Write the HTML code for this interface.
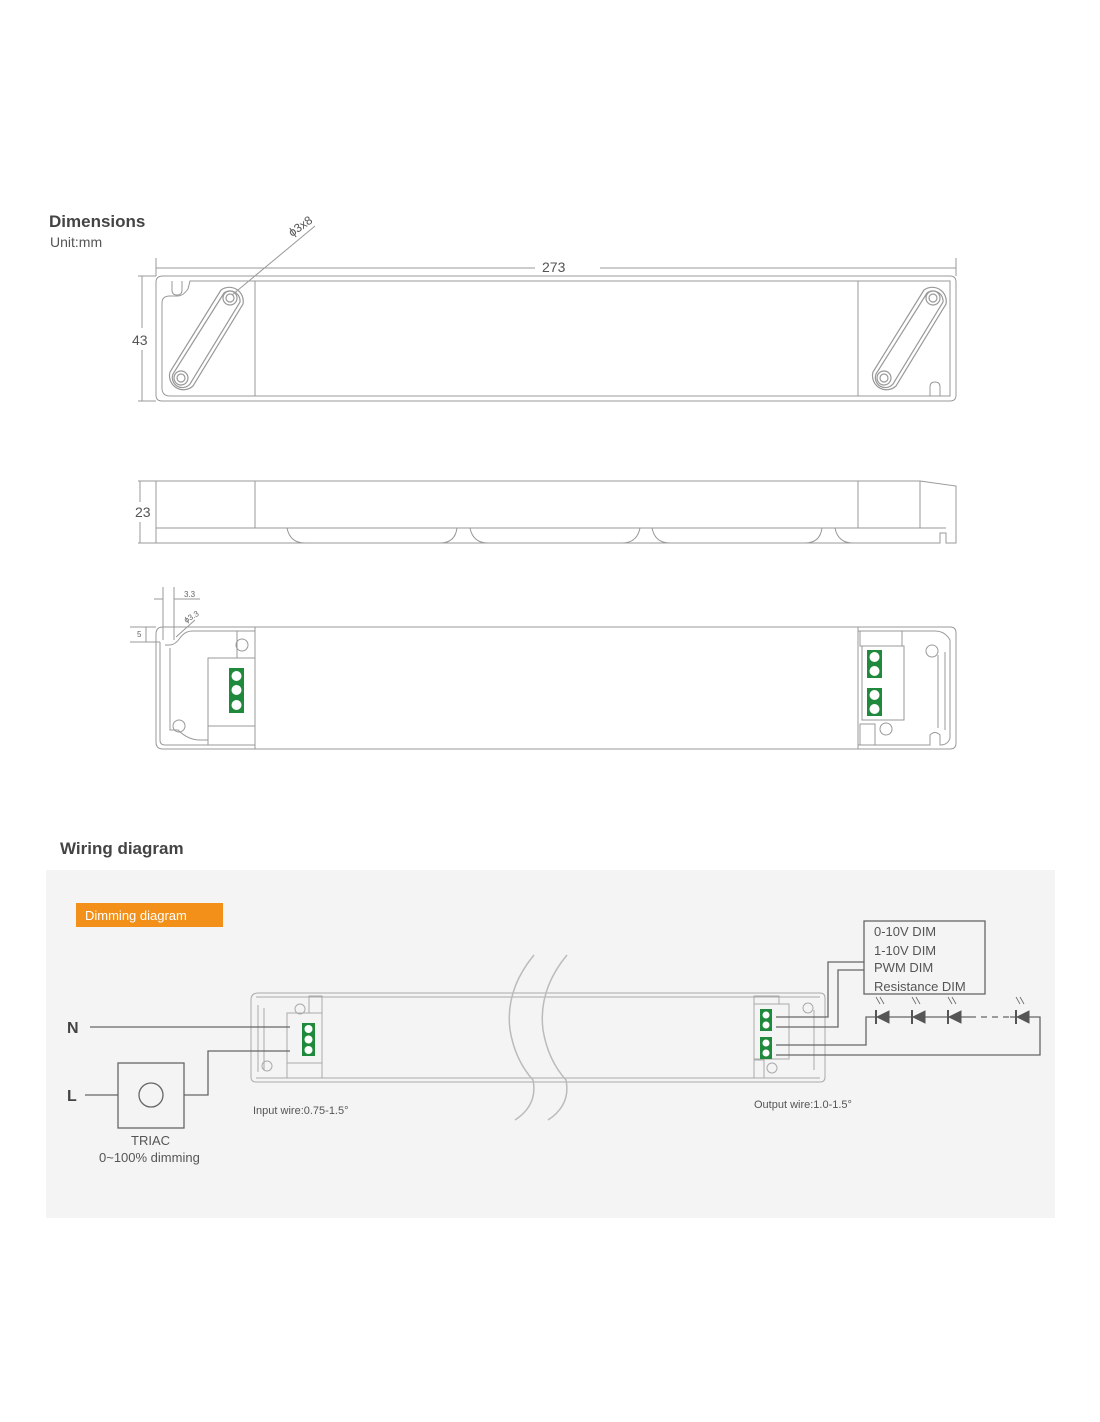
<!DOCTYPE html>
<html><head><meta charset="utf-8"><style>
html,body{margin:0;padding:0;background:#fff;}
svg{display:block;}
text{font-family:"Liberation Sans","DejaVu Sans",sans-serif;}
</style></head><body>
<svg width="1100" height="1422" viewBox="0 0 1100 1422" xmlns="http://www.w3.org/2000/svg">
<rect width="1100" height="1422" fill="#fff"/>
<text x="49" y="227" font-size="17" font-weight="bold" fill="#444">Dimensions</text>
<text x="50" y="247" font-size="14" fill="#555">Unit:mm</text>

<g fill="none" stroke="#999" stroke-width="1">
<line x1="156" y1="258" x2="156" y2="276"/><line x1="956" y1="258" x2="956" y2="276"/>
<line x1="156" y1="268" x2="535" y2="268"/><line x1="600" y1="268" x2="956" y2="268"/>
<line x1="138" y1="276" x2="156" y2="276"/><line x1="138" y1="401" x2="156" y2="401"/>
<line x1="142" y1="276" x2="142" y2="328"/><line x1="142" y1="350" x2="142" y2="401"/>
<path d="M163 276 H950 Q956 276 956 282 V395 Q956 401 950 401 H162 Q156 401 156 395 V282 Q156 276 163 276Z"/>
<path d="M172 281 V290 Q172 295 177 295 Q182 295 182 290 V281"/>
<path d="M190 281 H950 V396 H170 Q162 396 162 388 V303 Q162 296 170 296 H178 Q183 296 188 289 Z"/>
<path d="M940 396 V387 Q940 382 935 382 Q930 382 930 387 V396"/>
<line x1="255" y1="281" x2="255" y2="396"/><line x1="858" y1="281" x2="858" y2="396"/>
<line x1="232" y1="295" x2="315" y2="226"/>
<g stroke-width="1.2">
<path d="M221 290 L170 372 A14 14 0 0 0 193 386 L243 304 A14 14 0 0 0 221 290Z"/>
<path d="M224 293 L173 374 A10 10 0 0 0 190 384 L240 302 A10 10 0 0 0 224 293Z"/>
<circle cx="230" cy="298" r="7"/><circle cx="230" cy="298" r="4"/>
<circle cx="181" cy="378" r="7"/><circle cx="181" cy="378" r="4"/>
<path d="M924 290 L873 372 A14 14 0 0 0 896 386 L946 304 A14 14 0 0 0 924 290Z"/>
<path d="M927 293 L876 374 A10 10 0 0 0 893 384 L943 302 A10 10 0 0 0 927 293Z"/>
<circle cx="933" cy="298" r="7"/><circle cx="933" cy="298" r="4"/>
<circle cx="884" cy="378" r="7"/><circle cx="884" cy="378" r="4"/>
</g>

<line x1="138" y1="481" x2="156" y2="481"/><line x1="138" y1="543" x2="156" y2="543"/>
<line x1="140" y1="481" x2="140" y2="502"/><line x1="140" y1="522" x2="140" y2="543"/>
<path d="M156 481 H920 L956 486 V543 H946 V533 H940 V543 H156 Z"/>
<line x1="255" y1="481" x2="255" y2="528"/><line x1="858" y1="481" x2="858" y2="528"/>
<line x1="920" y1="481" x2="920" y2="528"/>
<line x1="156" y1="528" x2="946" y2="528"/>
<path d="M287 528 Q290 543 305 543 M440 543 Q455 543 457 528"/>
<path d="M470 528 Q473 543 488 543 M622 543 Q637 543 640 528"/>
<path d="M652 528 Q655 543 670 543 M805 543 Q820 543 822 528"/>
<path d="M835 528 Q838 543 853 543"/>

<line x1="163" y1="587" x2="163" y2="640"/><line x1="174" y1="587" x2="174" y2="640"/>
<line x1="154" y1="599" x2="163" y2="599"/><line x1="174" y1="599" x2="200" y2="599"/>
<line x1="130" y1="627" x2="156" y2="627"/><line x1="130" y1="642" x2="160" y2="642"/>
<line x1="146" y1="627" x2="146" y2="642"/>
<line x1="176" y1="637" x2="195" y2="620"/>
<path d="M166 627 H950 Q956 627 956 633 V743 Q956 749 950 749 H163 Q156 749 156 742 V634 Q156 627 163 627Z"/>
<path d="M160 642 V740 Q160 745 165 745 H255 V631 H192 Q185 631 180 638 Q175 645 170 645 H165"/>
<path d="M170 648 V730 H178 Q188 740 200 740 H208"/>
<line x1="255" y1="627" x2="255" y2="749"/><line x1="858" y1="627" x2="858" y2="749"/>
<rect x="208" y="658" width="47" height="68"/>
<rect x="237" y="631" width="18" height="27"/>
<rect x="208" y="726" width="47" height="19"/>
<circle cx="242" cy="645" r="6"/><circle cx="179" cy="726" r="6"/>
<path d="M858 631 H935 Q945 631 950 640 V738 Q948 745 940 745 V735 Q935 730 930 735 V745 H858"/>
<rect x="860" y="631" width="42" height="15"/>
<rect x="862" y="646" width="42" height="74"/>
<rect x="860" y="724" width="15" height="21"/>
<line x1="945" y1="652" x2="945" y2="730"/><line x1="938" y1="655" x2="938" y2="728"/>
<circle cx="932" cy="651" r="6"/><circle cx="886" cy="729" r="6"/>
</g>
<g font-size="14" fill="#555">
<text x="542" y="272">273</text>
<text x="132" y="345">43</text>
<text x="135" y="517">23</text>
<text x="292" y="237" transform="rotate(-35 292 237)" font-size="12">ϕ3x8</text>
</g>
<text x="184" y="597" font-size="8" fill="#666">3.3</text>
<text x="137" y="637" font-size="8" fill="#666">5</text>
<text x="186" y="623" font-size="8" fill="#666" transform="rotate(-30 186 623)">ϕ3.3</text>
<rect x="229" y="668" width="15" height="45" fill="#1f8a3c"/>
<circle cx="236.5" cy="676" r="5" fill="#fff"/><circle cx="236.5" cy="690" r="5" fill="#fff"/><circle cx="236.5" cy="705" r="5" fill="#fff"/>
<rect x="867" y="650" width="15" height="28" fill="#1f8a3c"/>
<circle cx="874.5" cy="657" r="5" fill="#fff"/><circle cx="874.5" cy="671" r="5" fill="#fff"/>
<rect x="867" y="688" width="15" height="28" fill="#1f8a3c"/>
<circle cx="874.5" cy="695" r="5" fill="#fff"/><circle cx="874.5" cy="709" r="5" fill="#fff"/>

<text x="60" y="854" font-size="17" font-weight="bold" fill="#444">Wiring diagram</text>
<rect x="46" y="870" width="1009" height="348" fill="#f4f4f4"/>
<rect x="76" y="903" width="147" height="24" fill="#f39019"/>
<text x="85" y="920" font-size="13" fill="#fff">Dimming diagram</text>

<g fill="none" stroke="#aaa" stroke-width="1">
<path d="M258 993 H820 Q825 993 825 998 V1077 Q825 1082 820 1082 H256 Q251 1082 251 1077 V1000 Q251 993 258 993Z"/>
<line x1="256" y1="997" x2="820" y2="997"/><line x1="256" y1="1078" x2="820" y2="1078"/>
<rect x="287" y="1013" width="35" height="50"/>
<rect x="309" y="996" width="13" height="17"/>
<rect x="287" y="1063" width="35" height="15"/>
<rect x="754" y="1004" width="35" height="55"/>
<rect x="754" y="996" width="25" height="8"/>
<rect x="754" y="1060" width="10" height="18"/>
<line x1="258" y1="1005" x2="258" y2="1072"/><line x1="264" y1="1008" x2="264" y2="1070"/>
<line x1="814" y1="1010" x2="814" y2="1070"/>
<circle cx="300" cy="1009" r="5"/><circle cx="267" cy="1066" r="5"/>
<circle cx="808" cy="1008" r="5"/><circle cx="772" cy="1068" r="5"/>
</g>
<g fill="none" stroke="#bbb" stroke-width="1.5">
<path d="M534 955 Q505 990 510 1030 Q515 1060 533 1080 Q538 1105 515 1120"/>
<path d="M567 955 Q538 990 543 1030 Q548 1060 566 1080 Q571 1105 548 1120"/>
</g>
<rect x="302" y="1023" width="13" height="33" fill="#1f8a3c"/>
<circle cx="308.5" cy="1029" r="4" fill="#fff"/><circle cx="308.5" cy="1039.5" r="4" fill="#fff"/><circle cx="308.5" cy="1050" r="4" fill="#fff"/>
<rect x="760" y="1009" width="12" height="22" fill="#1f8a3c"/>
<circle cx="766" cy="1015" r="3.5" fill="#fff"/><circle cx="766" cy="1025" r="3.5" fill="#fff"/>
<rect x="760" y="1037" width="12" height="22" fill="#1f8a3c"/>
<circle cx="766" cy="1043" r="3.5" fill="#fff"/><circle cx="766" cy="1053" r="3.5" fill="#fff"/>

<g fill="none" stroke="#666" stroke-width="1.3">
<line x1="90" y1="1027" x2="290" y2="1027"/>
<line x1="85" y1="1095" x2="118" y2="1095"/>
<rect x="118" y="1063" width="66" height="65"/>
<circle cx="151" cy="1095" r="12"/>
<path d="M184 1095 H208 V1051 H290"/>
<rect x="864" y="921" width="121" height="73"/>
<path d="M776 1017 H828 V962 H864"/>
<path d="M776 1027 H838 V970 H864"/>
<path d="M776 1045 H866 V1017 H970"/>
<path d="M1010 1017 H1040 V1055 H776"/>
</g>
<line x1="970" y1="1017" x2="1010" y2="1017" stroke="#666" stroke-width="1.3" stroke-dasharray="6 5"/>
<g fill="#555" stroke="#555">
<polygon points="889,1011 889,1023 877,1017"/><line x1="876" y1="1010" x2="876" y2="1024" stroke-width="2"/>
<polygon points="925,1011 925,1023 913,1017"/><line x1="912" y1="1010" x2="912" y2="1024" stroke-width="2"/>
<polygon points="961,1011 961,1023 949,1017"/><line x1="948" y1="1010" x2="948" y2="1024" stroke-width="2"/>
<polygon points="1029,1011 1029,1023 1017,1017"/><line x1="1016" y1="1010" x2="1016" y2="1024" stroke-width="2"/>
</g>
<g stroke="#666" stroke-width="0.8">
<line x1="876" y1="997" x2="880" y2="1004"/><line x1="880" y1="997" x2="884" y2="1004"/>
<line x1="912" y1="997" x2="916" y2="1004"/><line x1="916" y1="997" x2="920" y2="1004"/>
<line x1="948" y1="997" x2="952" y2="1004"/><line x1="952" y1="997" x2="956" y2="1004"/>
<line x1="1016" y1="997" x2="1020" y2="1004"/><line x1="1020" y1="997" x2="1024" y2="1004"/>
</g>
<text x="67" y="1033" font-size="16" font-weight="bold" fill="#444">N</text>
<text x="67" y="1101" font-size="16" font-weight="bold" fill="#444">L</text>
<g font-size="13" fill="#555">
<text x="131" y="1145">TRIAC</text>
<text x="99" y="1162">0~100% dimming</text>
<text x="874" y="936">0-10V DIM</text>
<text x="874" y="955">1-10V DIM</text>
<text x="874" y="972">PWM DIM</text>
<text x="874" y="991">Resistance DIM</text>
</g>
<text x="253" y="1114" font-size="11" fill="#555">Input wire:0.75-1.5°</text>
<text x="754" y="1108" font-size="11" fill="#555">Output wire:1.0-1.5°</text>
</svg>
</body></html>
